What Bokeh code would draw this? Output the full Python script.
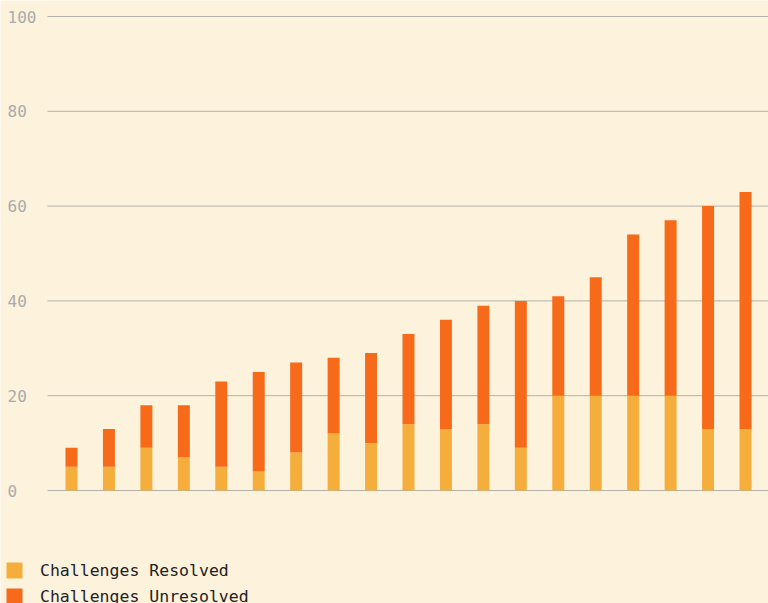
from bokeh.plotting import figure
from bokeh.models import Range1d, Legend
from bokeh.core.properties import value
from bokeh.embed import file_html
from bokeh.resources import INLINE

periods = list(range(19))
resolved = [5, 5, 9, 7, 5, 4, 8, 12, 10, 14, 13, 14, 9, 20, 20, 20, 20, 13, 13]
unresolved = [4, 8, 9, 11, 18, 21, 19, 16, 19, 19, 23, 25, 31, 21, 25, 34, 37, 47, 50]
y_ticks = [0, 20, 40, 60, 80, 100]
series = ["Challenges Resolved", "Challenges Unresolved"]
colors = ["#f5ae3c", "#f66a1a"]

BG = "#fdf2dc"
W, H = 768, 603
# layout (pixels): first/last bar centre, plot-area left, y=0 and y=100 rows
PX_FIRST, PX_LAST, PX_LEFT, PX_LABEL = 71, 745, 47, 7
PY_ZERO, PY_TOP = 490, 16

ux = (PX_LAST - PX_FIRST) / (len(periods) - 1)
uy = (PY_ZERO - PY_TOP) / 100.0
x0 = periods[0] - PX_FIRST / ux
x1 = x0 + W / ux
y1 = 100 + PY_TOP / uy
y0 = y1 - H / uy

data = {"x": periods, "resolved": resolved, "unresolved": unresolved}

p = figure(width=W, height=H, output_backend="svg", toolbar_location=None,
           x_range=Range1d(x0, x1), y_range=Range1d(y0, y1),
           min_border=0)
p.background_fill_color = BG
p.border_fill_color = BG
p.outline_line_color = None
p.xaxis.visible = False
p.yaxis.visible = False
p.xgrid.visible = False
p.ygrid.visible = False

grid_left = x0 + PX_LEFT / ux
p.segment(x0=[grid_left] * len(y_ticks), x1=[x1] * len(y_ticks), y0=y_ticks, y1=y_ticks,
          line_color="#b3b0a8", line_width=1, level="underlay")

p.text(x=[x0 + PX_LABEL / ux] * len(y_ticks), y=y_ticks, text=[str(t) for t in y_ticks],
       text_align="left", text_baseline="middle",
       text_font=value("DejaVu Sans Mono"), text_font_size="16px", text_color="#ababab")

renderers = p.vbar_stack(["resolved", "unresolved"], x="x", width=0.32, color=colors,
                         source=data, line_color=None)

legend = Legend(items=[(s, [r]) for s, r in zip(series, renderers)],
                location=(4, -3), orientation="vertical",
                glyph_width=20, glyph_height=20, label_height=20, spacing=6,
                label_standoff=16, padding=0, margin=0,
                border_line_color=None, background_fill_alpha=0,
                label_text_font="DejaVu Sans Mono", label_text_font_size="16.5px",
                label_text_color="#222222")
p.add_layout(legend, "center")

open("out.html", "w").write(file_html(p, INLINE))
